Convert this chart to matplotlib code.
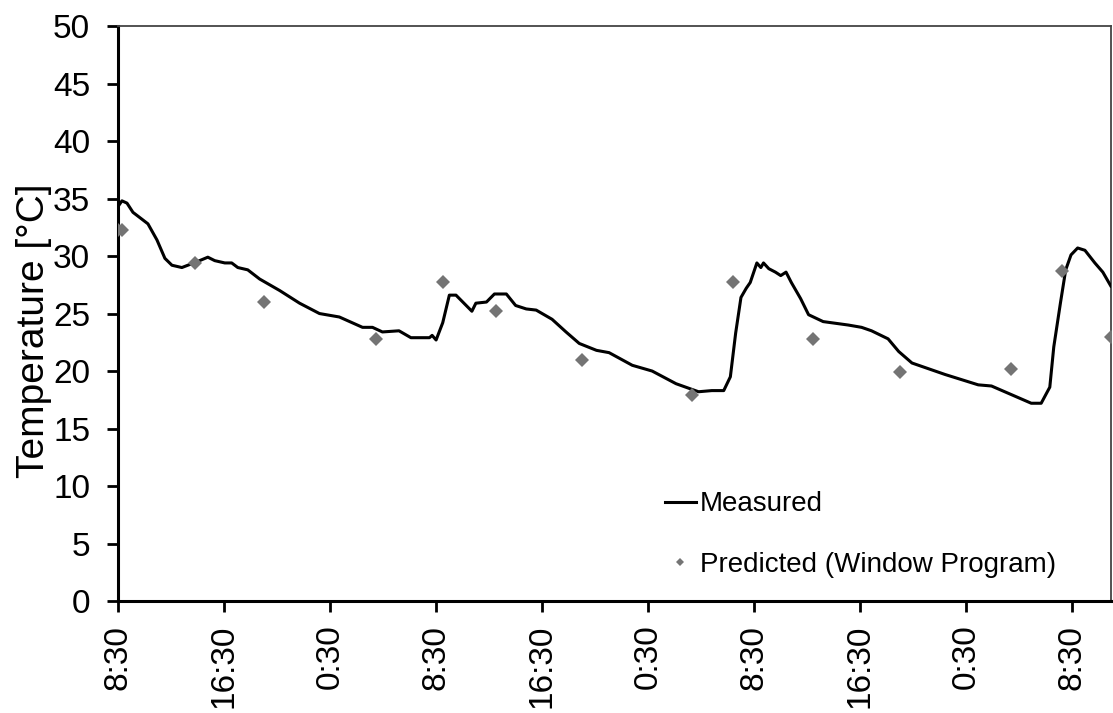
"""Measured vs. predicted room temperature over three days."""

import matplotlib
matplotlib.use('Agg')
import matplotlib.pyplot as plt

# Hours elapsed since 8:30 on the first day
measured_hours = [
    0.0, 0.3, 0.68, 1.13, 1.81, 2.26, 2.94, 3.54, 4.07, 4.82, 5.27, 5.95,
    6.78, 7.3, 8.06, 8.58, 9.04, 9.79, 10.69, 12.2, 13.7, 15.2, 16.7,
    18.45, 19.2, 19.95, 21.2, 22.1, 23.5, 23.7, 24.0, 24.5, 25.0, 25.5,
    26.7, 27.0, 27.8, 28.4, 29.3, 30.0, 30.8, 31.55, 32.75, 33.8, 34.8,
    36.1, 37.05, 38.8, 40.3, 42.1, 43.8, 44.8, 45.7, 46.2, 46.6, 47.0,
    47.4, 47.7, 48.2, 48.5, 48.7, 49.1, 49.6, 50.0, 50.4, 50.8, 51.5,
    52.1, 53.2, 55.1, 56.1, 56.85, 58.1, 58.9, 59.9, 60.9, 62.4, 64.9,
    65.9, 66.9, 67.9, 68.9, 69.65, 70.3, 70.6, 71.1, 71.5, 71.9, 72.4,
    72.95, 73.7, 74.3, 74.9,
]
measured_temp = [
    34.3, 34.8, 34.6, 33.8, 33.2, 32.8, 31.4, 29.8, 29.2, 29.0, 29.2, 29.5,
    29.9, 29.6, 29.4, 29.4, 29.0, 28.8, 28.0, 27.0, 25.9, 25.0, 24.7,
    23.8, 23.8, 23.4, 23.5, 22.9, 22.9, 23.1, 22.7, 24.2, 26.6, 26.6,
    25.2, 25.9, 26.0, 26.7, 26.7, 25.7, 25.4, 25.3, 24.5, 23.4, 22.4,
    21.8, 21.6, 20.5, 20.0, 18.9, 18.2, 18.3, 18.3, 19.5, 23.3, 26.4,
    27.2, 27.7, 29.4, 29.0, 29.4, 28.9, 28.6, 28.3, 28.6, 27.7, 26.3,
    24.9, 24.3, 24.0, 23.8, 23.5, 22.8, 21.7, 20.7, 20.3, 19.7, 18.8,
    18.7, 18.2, 17.7, 17.2, 17.2, 18.6, 22.1, 25.9, 28.8, 30.1, 30.7,
    30.5, 29.4, 28.6, 27.4,
]

predicted_hours = [0.0, 0.3, 5.8, 11.0, 19.5, 24.5, 28.5, 35.0, 43.3,
                   46.4, 52.4, 59.0, 67.4, 71.2, 74.9]
predicted_temp = [32.3, 32.3, 29.4, 26.0, 22.8, 27.7, 25.2, 21.0, 17.9,
                  27.7, 22.8, 19.9, 20.2, 28.7, 23.0]

tick_hours = [0, 8, 16, 24, 32, 40, 48, 56, 64, 72]
tick_labels = ['8:30', '16:30', '0:30', '8:30', '16:30', '0:30',
               '8:30', '16:30', '0:30', '8:30']


def plot_temperature_comparison(save_path: str):
    plt.rcParams['font.family'] = ['Liberation Sans', 'DejaVu Sans']

    fig, ax = plt.subplots(figsize=(11.13, 7.13), dpi=100)
    fig.subplots_adjust(left=0.106, right=0.998, top=0.9635, bottom=0.157)

    ax.plot(measured_hours, measured_temp, color='black', linewidth=2.2,
            label='Measured', zorder=3)
    ax.plot(predicted_hours, predicted_temp, linestyle='none', marker='D',
            markersize=7.5, color='#747474', markeredgewidth=0,
            label='Predicted (Window Program)', zorder=4)

    ax.set_xlim(0, 74.9)
    ax.set_ylim(0, 50)
    ax.set_yticks(range(0, 51, 5))
    ax.set_xticks(tick_hours)
    ax.set_xticklabels(tick_labels, rotation=90)
    ax.set_ylabel('Temperature [°C]', fontsize=28)
    ax.yaxis.set_label_coords(-0.066, 0.47)

    ax.tick_params(axis='y', direction='out', length=8, width=2,
                   labelsize=24, pad=12)
    ax.tick_params(axis='x', direction='out', length=8, width=2,
                   labelsize=24, pad=9)

    for side in ['left', 'bottom']:
        ax.spines[side].set_linewidth(2.2)
        ax.spines[side].set_color('black')
    for side in ['top', 'right']:
        ax.spines[side].set_linewidth(1.3)
        ax.spines[side].set_color('#444444')

    ax.legend(loc='upper left', bbox_to_anchor=(0.537, 0.215),
              frameon=False, fontsize=20, handlelength=1.1,
              handletextpad=0.15, labelspacing=1.25, borderpad=0,
              markerscale=0.6)

    plt.savefig(save_path, dpi=100)
    plt.close()


plot_temperature_comparison('out.png')
